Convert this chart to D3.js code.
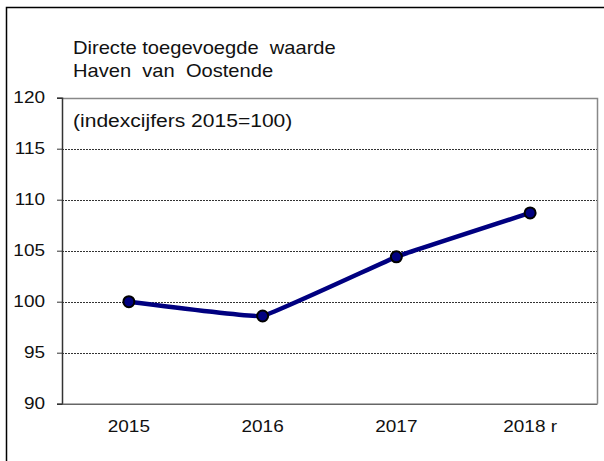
<!DOCTYPE html>
<html>
<head>
<meta charset="utf-8">
<script src="https://cdn.jsdelivr.net/npm/d3@7"></script>
<style>
  body { margin: 0; background: #fff; }
  svg { display: block; font-family: Arial, "Liberation Sans", sans-serif; }
</style>
</head>
<body>
<div id="chart"></div>
<script>
// data
const years = ["2015", "2016", "2017", "2018 r"];
const indexValues = [100.0, 98.6, 104.4, 108.7];
const yTicks = [90, 95, 100, 105, 110, 115, 120];
const titleLines = ["Directe toegevoegde  waarde", "Haven  van  Oostende"];
const subTitle = "(indexcijfers 2015=100)";

const W = 604, H = 461;
const plot = { left: 62, right: 597, top: 97.7, bottom: 403.7 };
const stretch = 1.15; // text in the source is a bit wide

const svg = d3.select("#chart").append("svg")
  .attr("width", W).attr("height", H);

svg.append("rect").attr("width", W).attr("height", H).attr("fill", "#fff");

// outer frame (runs off right/bottom)
svg.append("rect")
  .attr("x", 6.5).attr("y", 7.5)
  .attr("width", W + 10).attr("height", H + 10)
  .attr("fill", "none").attr("stroke", "#000").attr("stroke-width", 1.5);

const x = d3.scaleBand().domain(years).range([plot.left, plot.right]);
const y = d3.scaleLinear().domain([90, 120]).range([plot.bottom, plot.top]);

// gridlines
svg.append("g")
  .selectAll("line")
  .data(yTicks.filter(t => t > 90 && t < 120))
  .enter().append("line")
  .attr("x1", plot.left).attr("x2", plot.right)
  .attr("y1", d => Math.round(y(d)) + 0.5).attr("y2", d => Math.round(y(d)) + 0.5)
  .attr("stroke", "#333").attr("stroke-width", 1)
  .attr("stroke-dasharray", "2 1");

// plot border top + right
svg.append("path")
  .attr("d", `M${plot.left},${Math.round(plot.top) + 0.5}H${plot.right + 0.5}V${plot.bottom}`)
  .attr("fill", "none").attr("stroke", "#888").attr("stroke-width", 1.5);

// y axis
const yAxis = svg.append("g")
  .attr("transform", `translate(${plot.left},0)`)
  .call(d3.axisLeft(y).tickValues(yTicks).tickSize(5).tickPadding(0));
yAxis.select(".domain").attr("stroke", "#333").attr("stroke-width", 1.5);
yAxis.selectAll(".tick line").attr("stroke", "#333");
yAxis.selectAll("text")
  .attr("x", 0)
  .attr("transform", `translate(-17,0) scale(${stretch},1)`)
  .attr("font-size", 16.5).attr("fill", "#111")
  .attr("font-family", "Arial, 'Liberation Sans', sans-serif");

// x axis
const xAxis = svg.append("g")
  .attr("transform", `translate(0,${plot.bottom})`)
  .call(d3.axisBottom(x).tickSize(0).tickPadding(17));
xAxis.select(".domain").attr("stroke", "#666").attr("stroke-width", 1.5);
xAxis.selectAll("text")
  .attr("transform", `scale(${stretch},1)`)
  .attr("font-size", 16.5).attr("fill", "#111")
  .attr("font-family", "Arial, 'Liberation Sans', sans-serif");

// line
const pts = years.map((yr, i) => ({ year: yr, value: indexValues[i] }));
const line = d3.line()
  .x(d => x(d.year) + x.bandwidth() / 2)
  .y(d => y(d.value))
  .curve(d3.curveCardinal.tension(0.8));

svg.append("path")
  .datum(pts)
  .attr("fill", "none")
  .attr("stroke", "#000080")
  .attr("stroke-width", 4.5)
  .attr("d", line);

svg.selectAll(".dot")
  .data(pts)
  .enter().append("circle")
  .attr("class", "dot")
  .attr("cx", d => x(d.year) + x.bandwidth() / 2)
  .attr("cy", d => y(d.value))
  .attr("r", 5.5)
  .attr("fill", "#000080")
  .attr("stroke", "#000")
  .attr("stroke-width", 2);

// titles
svg.append("g")
  .selectAll("text")
  .data(titleLines)
  .enter().append("text")
  .attr("transform", (d, i) => `translate(73,${54 + i * 23}) scale(${stretch},1)`)
  .attr("font-size", 17.5).attr("fill", "#111")
  .style("white-space", "pre")
  .text(d => d);

svg.append("text")
  .attr("transform", `translate(73,127) scale(${stretch},1)`)
  .attr("font-size", 18.3).attr("fill", "#111")
  .text(subTitle);
</script>
</body>
</html>
